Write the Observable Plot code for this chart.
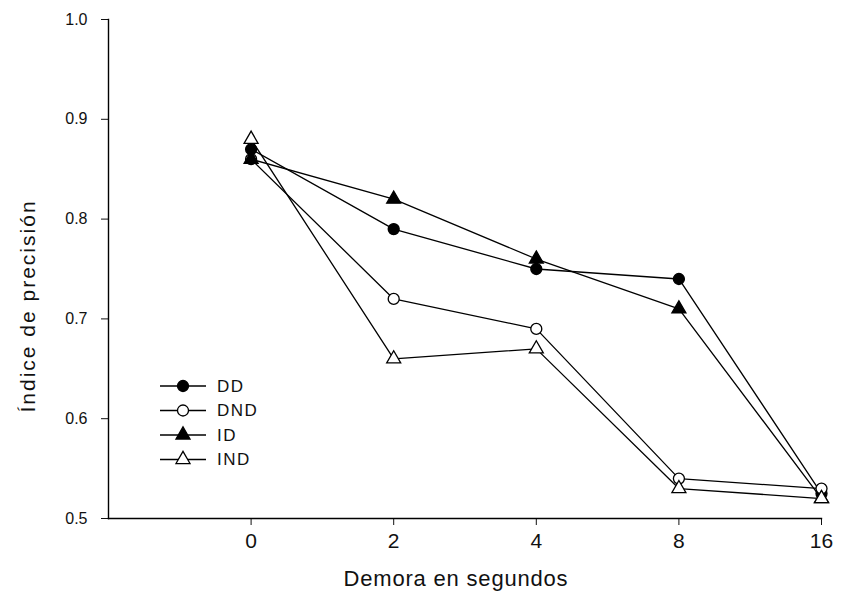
<!DOCTYPE html>
<html>
<head>
<meta charset="utf-8">
<script src="https://cdn.jsdelivr.net/npm/d3@7"></script>
<script src="https://cdn.jsdelivr.net/npm/@observablehq/plot@0.6"></script>
<style>
  html, body { margin: 0; padding: 0; background: #fff; }
  #chart { position: relative; width: 843px; height: 596px; }
</style>
</head>
<body>
<div id="chart"></div>
<script>
// Delay categories (evenly spaced on the axis)
const delays = ["0", "2", "4", "8", "16"];
const seriesNames = ["DD", "DND", "ID", "IND"];
const ddValues  = [0.87, 0.79, 0.75, 0.74, 0.525];
const dndValues = [0.86, 0.72, 0.69, 0.54, 0.53];
const idValues  = [0.86, 0.82, 0.76, 0.71, 0.52];
const indValues = [0.88, 0.66, 0.67, 0.53, 0.52];
const yTicks = [0.5, 0.6, 0.7, 0.8, 0.9, 1.0];
const xTitle = "Demora en segundos";
const yTitle = "Índice de precisión";

const seriesValues = [ddValues, dndValues, idValues, indValues];
const symbols = ["circle", "circle", "triangle", "triangle"];
const fills = ["black", "white", "black", "white"];

const data = [];
seriesNames.forEach((s, si) => {
  seriesValues[si].forEach((v, i) => data.push({series: s, si, i, v}));
});

const font = "'Liberation Sans', Arial, sans-serif";

const marks = [
  Plot.axisY({ticks: yTicks, tickFormat: d3.format(".1f"), tickSize: 7, tickPadding: 14, fontSize: 16, label: null}),
  Plot.axisX({ticks: delays.map((d, i) => i), tickFormat: i => delays[i], tickSize: 7, tickPadding: 8, fontSize: 21, label: null}),
  Plot.frame({anchor: "left", stroke: "black", strokeWidth: 1.4}),
  Plot.frame({anchor: "bottom", stroke: "black", strokeWidth: 1.4}),
];
seriesNames.forEach((s, si) => {
  const d = data.filter(r => r.si === si);
  marks.push(Plot.line(d, {x: "i", y: "v", stroke: "black", strokeWidth: 1.3}));
});
seriesNames.forEach((s, si) => {
  const d = data.filter(r => r.si === si);
  marks.push(Plot.dot(d, {x: "i", y: "v", symbol: () => symbols[si], r: symbols[si] === "circle" ? 5.5 : 5.2,
    fill: fills[si], stroke: "black", strokeWidth: 1.3}));
});

const chart = Plot.plot({
  width: 843,
  height: 596,
  marginLeft: 108,
  marginRight: 22,
  marginTop: 19,
  marginBottom: 78,
  style: {fontFamily: font, color: "#111", background: "white"},
  x: {type: "linear", domain: [-1, delays.length - 1]},
  y: {domain: [0.5, 1.0]},
  marks
});

const svg = d3.select(chart);

// Axis titles
svg.append("text").attr("x", 456).attr("y", 578).attr("dy", "0.35em")
  .attr("text-anchor", "middle").attr("font-family", font).attr("font-size", 22)
  .attr("fill", "#111").style("letter-spacing", "0.8px").text(xTitle);
svg.append("text").attr("transform", "translate(28,306) rotate(-90)").attr("dy", "0.35em")
  .attr("text-anchor", "middle").attr("font-family", font).attr("font-size", 21)
  .attr("fill", "#111").style("letter-spacing", "2px").text(yTitle);

// Legend
const lg = svg.append("g").attr("font-family", font).attr("font-size", 17).attr("text-anchor", "start");
seriesNames.forEach((s, si) => {
  const g = lg.append("g").attr("transform", `translate(160, ${386 + 24.5 * si})`);
  g.append("line").attr("x1", 0).attr("x2", 46).attr("y1", 0).attr("y2", 0).attr("stroke", "black").attr("stroke-width", 1.3);
  const sym = symbols[si] === "circle" ? d3.symbolCircle : d3.symbolTriangle;
  const r = symbols[si] === "circle" ? 5.5 : 5.2;
  g.append("path").attr("d", d3.symbol(sym, Math.PI * r * r)()).attr("transform", "translate(23,0)")
    .attr("fill", fills[si]).attr("stroke", "black").attr("stroke-width", 1.3);
  g.append("text").attr("x", 57).attr("y", 0).attr("dy", "0.35em").attr("fill", "#111").style("letter-spacing", "1.5px").text(s);
});

document.getElementById("chart").appendChild(chart);
</script>
</body>
</html>
